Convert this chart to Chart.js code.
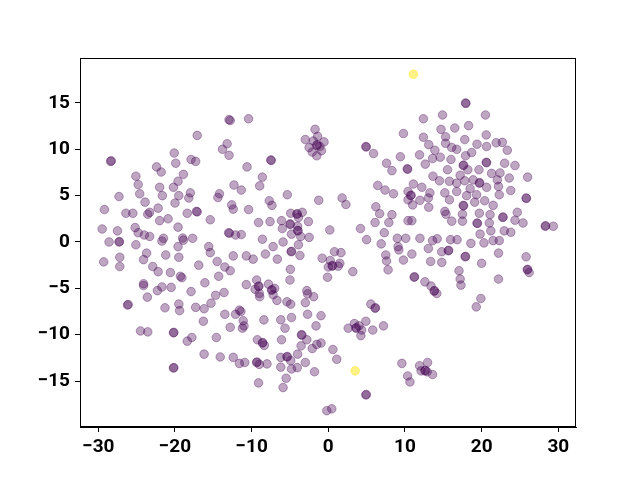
<!DOCTYPE html>
<html>
<head>
<meta charset="utf-8">
<script src="https://cdn.jsdelivr.net/npm/chart.js@4.4.1/dist/chart.umd.min.js"></script>
<style>
  html, body { margin: 0; background: #fff; }
</style>
</head>
<body>
<canvas id="c" width="640" height="480"></canvas>
<script>
// tick values shown on the axes
const xTicks = [-30, -20, -10, 0, 10, 20, 30];
const yTicks = [-15, -10, -5, 0, 5, 10, 15];

// embedding points, label 0 (purple)
const class0 = [
  [-12.95,13.2],[-12.8,13.1],[-10.4,13.3],[-17.1,11.5],[-28.4,8.7],[-28.3,8.75],[-13.2,10.6],[-13.8,10.0],
  [-12.95,9.35],[-20.1,9.6],[-19.9,8.5],[-17.9,8.9],[-17.3,8.7],[-10.6,8.1],[-22.4,8.1],[-21.8,7.55],
  [-25.1,7.1],[-24.8,6.2],[-18.9,7.3],[-19.6,6.55],[-20.2,5.9],[-22.0,5.9],[-24.6,5.2],[-21.65,5.0],
  [-19.5,5.0],[-18.0,5.3],[-18.2,4.75],[-27.3,4.9],[-23.9,4.3],[-20.0,4.2],[-12.3,6.15],[-11.35,5.6],
  [-14.2,5.2],[-14.4,4.8],[-12.6,4.0],[-12.4,3.55],[-10.4,3.5],[-22.2,3.65],[-29.2,3.5],[-26.4,3.1],
  [-25.5,3.1],[-23.3,3.2],[-23.55,3.0],[-18.4,3.1],[-17.2,3.3],[-17.1,3.25],[-22.0,2.3],[-20.9,2.5],
  [-15.4,2.4],[-19.6,1.6],[-29.5,1.4],[-27.5,1.2],[-25.2,1.55],[-24.8,1.0],[-24.0,0.75],[-23.3,0.6],
  [-19.0,0.43],[-18.9,0.2],[-17.7,0.4],[-13.0,1.0],[-12.9,0.95],[-12.1,0.75],[-11.35,0.8],[-28.6,0.0],
  [-27.3,0.0],[-27.25,0.05],[-25.1,-0.3],[-21.7,0.1],[-21.5,0.4],[-19.6,-0.5],[-15.6,-0.5],
  [-15.4,-1.15],[-27.2,-1.65],[-27.2,-2.65],[-29.3,-2.15],[-23.7,-1.2],[-24.1,-1.9],[-21.2,-1.4],
  [-19.5,-1.65],[-16.9,-2.5],[-22.9,-2.65],[-22.2,-3.2],[-20.6,-3.3],[-19.3,-3.7],[-19.1,-3.85],
  [-24.1,-4.5],[-24.1,-4.7],[-22.3,-5.25],[-21.7,-4.85],[-20.5,-4.9],[-23.6,-5.95],[-17.9,-5.35],
  [-16.1,-4.4],[-14.5,-2.1],[-13.5,-2.7],[-12.8,-3.1],[-12.4,-1.5],[-10.7,-1.5],[-14.3,-3.7],[-10.7,-4.6],
  [-14.7,-5.75],[-13.6,-5.45],[-15.3,-6.6],[-16.2,-7.2],[-17.3,-7.05],[-26.2,-6.8],[-26.1,-6.75],
  [-21.3,-7.1],[-19.5,-6.7],[-19.4,-7.4],[-16.3,-8.55],[-13.5,-7.8],[-12.1,-7.8],[-11.6,-7.35],
  [-11.4,-7.5],[-11.1,-8.5],[-12.8,-9.2],[-11.2,-9.3],[-11.0,-9.05],[-24.5,-9.6],[-23.55,-9.7],
  [-20.2,-9.8],[-20.15,-9.75],[-18.4,-10.7],[-17.8,-10.3],[-14.6,-10.3],[-16.2,-12.1],[-14.1,-12.4],
  [-12.4,-12.45],[-11.6,-13.1],[-10.9,-13.0],[-20.2,-13.6],[-20.15,-13.55],
  [-1.73,12.15],[-1.4,11.4],[-3.0,11.05],[-0.56,10.8],[-1.96,10.9],[-2.5,10.2],[-1.5,10.4],[-1.45,10.5],
  [-1.1,10.3],[-0.9,9.85],[-2.1,9.7],[-1.5,9.3],[-7.5,8.85],[-7.45,8.8],[-8.6,7.0],[-8.95,6.05],
  [-5.35,5.1],[-7.7,4.45],[-7.35,3.95],[-1.25,4.5],[1.8,4.75],[2.3,4.05],[4.9,10.3],[4.95,10.25],
  [5.9,9.55],[9.8,11.7],[9.4,9.2],[10.3,7.9],[10.35,7.85],[7.6,8.5],[8.3,7.7],[6.45,6.1],[7.4,5.6],
  [8.5,5.2],[11.1,6.25],[10.4,5.45],[10.75,5.0],[10.8,5.05],[10.4,4.55],[11.0,4.0],[6.2,3.8],[6.7,3.05],
  [8.3,2.95],[7.9,2.1],[6.1,2.1],[10.4,2.3],[10.9,2.3],[4.2,1.45],[7.3,1.0],[5.0,0.25],[6.9,-0.2],
  [9.0,0.4],[10.1,0.4],[9.1,-0.5],[-4.9,3.1],[-4.1,3.0],[-4.05,3.05],[-3.4,3.2],[-3.9,2.65],[-6.1,2.3],
  [-5.0,1.9],[-4.95,1.95],[-4.0,1.7],[-2.6,2.2],[-6.0,1.45],[-4.0,1.25],[-3.95,1.2],[-4.8,0.85],
  [-3.6,0.6],[-2.5,0.5],[-7.6,2.2],[-9.1,2.1],[-8.6,0.3],[0.2,1.3],[-5.9,0.0],[-7.2,-0.5],[-3.9,-0.3],
  [-9.8,-1.85],[-8.2,-1.3],[-6.65,-1.85],[-4.85,-1.05],[-4.8,-1.0],[-3.7,-1.45],[-4.95,-2.95],
  [-5.0,-4.1],[-9.35,-4.1],[-9.1,-4.8],[-9.05,-4.75],[-9.55,-5.1],[-8.95,-5.9],[-9.0,-5.55],[-7.8,-4.55],
  [-7.4,-5.2],[-7.35,-5.15],[-7.0,-5.0],[-7.2,-5.7],[-6.7,-6.3],[-5.4,-6.45],[-4.9,-6.7],[-2.8,-5.25],
  [-2.7,-5.6],[-1.9,-5.9],[-3.0,-6.55],[-0.8,-1.75],[0.8,-1.05],[1.65,-1.15],[0.25,-2.0],[0.0,-2.7],
  [0.5,-2.6],[0.55,-2.55],[1.3,-2.6],[1.5,-2.3],[-0.1,-3.8],[3.2,-3.2],[7.5,-1.4],[7.6,-2.05],
  [7.8,-3.0],[9.2,-0.85],[9.8,-1.95],[10.9,-1.3],[11.2,-3.8],[11.25,-3.75],[-8.4,-8.4],[-6.2,-8.4],
  [-5.65,-9.3],[-4.8,-8.15],[-2.7,-7.8],[-0.95,-7.95],[-1.6,-9.05],[-9.25,-10.55],[-8.6,-10.9],
  [-8.55,-10.85],[-8.35,-11.15],[-6.1,-10.55],[-3.5,-10.0],[-3.45,-10.05],[-2.8,-10.55],[-3.55,-11.2],
  [-2.1,-11.5],[-1.5,-11.05],[-0.95,-10.9],[-4.0,-12.1],[-6.2,-12.45],[-5.4,-12.4],[-5.35,-12.35],
  [-4.9,-12.8],[-6.2,-13.5],[-4.8,-13.7],[-4.05,-13.55],[-3.0,-13.0],[-1.8,-14.0],[-5.5,-14.7],
  [-5.9,-15.7],[-9.35,-13.0],[-9.3,-12.95],[-9.0,-13.2],[-8.0,-13.15],[-9.1,-15.2],[0.6,-11.6],
  [1.1,-12.65],[4.9,-16.5],[4.95,-16.45],[-0.2,-18.2],[0.45,-18.0],[2.6,-9.3],[3.4,-8.8],[3.6,-9.3],
  [3.65,-9.25],[4.0,-9.05],[4.35,-9.5],[4.9,-8.55],[4.25,-10.1],[5.8,-9.5],[7.2,-9.05],[5.55,-6.7],
  [6.1,-7.15],[6.15,-7.1],[9.6,-13.1],[10.35,-14.45],[10.65,-15.1],
  [17.9,15.0],[17.95,14.95],[12.4,13.3],[14.9,13.7],[20.5,13.7],[14.7,12.15],[16.5,12.3],[18.3,12.55],
  [12.4,11.3],[15.3,11.35],[20.6,11.55],[13.1,10.5],[13.9,9.9],[15.3,10.65],[16.1,10.2],[16.75,10.0],
  [17.8,11.05],[18.7,9.65],[19.4,10.55],[20.65,10.3],[21.9,10.7],[22.7,10.75],[23.35,9.9],[11.9,9.4],
  [13.6,9.0],[14.6,9.15],[17.9,9.3],[12.65,8.4],[16.0,8.9],[17.6,8.25],[17.65,8.3],[18.2,7.8],
  [20.6,8.6],[20.65,8.55],[19.65,7.8],[23.0,8.5],[24.35,8.25],[26.0,7.0],[15.55,7.8],[13.65,7.1],
  [14.5,6.6],[15.8,6.55],[17.2,7.2],[16.75,6.35],[17.8,6.6],[18.9,6.7],[19.7,6.35],[19.75,6.4],
  [20.65,5.9],[21.3,7.4],[22.05,6.7],[22.4,7.45],[23.6,6.9],[22.2,6.0],[12.2,5.9],[13.25,5.3],
  [15.2,5.3],[16.75,5.45],[18.5,5.75],[18.05,5.0],[19.35,5.1],[20.4,4.45],[21.5,3.95],[22.3,5.1],
  [23.8,5.55],[25.8,4.75],[25.85,4.7],[11.95,4.5],[13.05,4.75],[13.1,3.75],[15.2,3.3],[15.8,4.55],
  [17.6,3.95],[17.65,3.9],[19.1,4.3],[19.7,3.1],[22.75,2.65],[22.8,2.7],[24.65,3.2],[24.35,2.35],
  [25.4,2.05],[28.3,1.7],[28.35,1.75],[29.35,1.7],[15.35,3.0],[16.1,2.25],[17.5,3.0],[17.5,2.25],
  [19.4,2.05],[19.45,2.0],[21.1,2.95],[21.0,2.05],[21.2,1.2],[19.8,0.85],[22.95,1.2],[23.8,1.05],
  [11.95,0.4],[13.6,0.15],[14.2,0.35],[15.95,0.25],[16.8,0.25],[18.6,-0.15],[20.3,-0.1],[21.5,0.15],
  [22.3,0.15],[13.05,-0.7],[14.8,-1.05],[15.65,-0.95],[15.7,-0.9],[22.2,-1.2],[25.8,-1.6],[13.35,-2.1],
  [14.8,-2.2],[17.85,-1.6],[17.9,-1.55],[20.0,-2.3],[17.05,-3.1],[17.2,-4.0],[17.3,-4.65],[25.95,-3.0],
  [26.0,-2.95],[26.2,-3.3],[22.2,-4.0],[12.6,-4.3],[13.4,-4.75],[13.8,-5.3],[13.85,-5.25],[14.15,-5.55],
  [19.9,-6.1],[19.3,-7.0],[11.9,-13.35],[12.95,-13.0],[12.1,-13.9],[12.6,-13.9],[12.65,-13.85],
  [12.9,-14.0],[13.6,-14.3]
];

// label 1 (yellow)
const class1 = [[11.1,18.1],[3.5,-13.9]];

const purple = 'rgba(68, 1, 84, 0.35)';
const yellow = 'rgba(253, 231, 37, 0.55)';

const toPts = arr => arr.map(p => ({ x: p[0], y: p[1] }));
const minusSign = v => String(v).replace('-', '\u2212');
const tickFont = { family: 'Roboto, "DejaVu Sans", sans-serif', size: 19, weight: 'bold' };

// black box round the plot area, like a matplotlib axes frame
const frame = {
  id: 'frame',
  afterDatasetsDraw(chart) {
    const { ctx, chartArea: a } = chart;
    ctx.save();
    ctx.strokeStyle = '#000';
    ctx.lineWidth = 1;
    ctx.strokeRect(a.left + 0.5, a.top + 0.5, a.width - 1, a.height - 1);
    ctx.restore();
  }
};

new Chart(document.getElementById('c'), {
  type: 'scatter',
  data: {
    datasets: [
      {
        label: '0',
        data: toPts(class0),
        backgroundColor: purple,
        borderColor: purple,
        borderWidth: 1,
        pointRadius: 4.3,
        pointHoverRadius: 4.3
      },
      {
        label: '1',
        data: toPts(class1),
        backgroundColor: yellow,
        borderColor: yellow,
        borderWidth: 1,
        pointRadius: 4.3,
        pointHoverRadius: 4.3
      }
    ]
  },
  options: {
    responsive: false,
    animation: false,
    layout: { padding: { left: 0, top: 58, right: 64, bottom: 0 } },
    plugins: {
      legend: { display: false },
      tooltip: { enabled: false }
    },
    scales: {
      x: {
        type: 'linear',
        min: -32.39,
        max: 32.31,
        afterBuildTicks: s => { s.ticks = xTicks.map(v => ({ value: v })); },
        afterFit: s => { s.height = 53; },
        ticks: { font: tickFont, color: '#000', callback: minusSign, maxRotation: 0, padding: 4 },
        grid: { drawOnChartArea: false, drawTicks: true, tickLength: 5, color: '#000' },
        border: { display: true, color: '#000' }
      },
      y: {
        type: 'linear',
        min: -19.96,
        max: 19.85,
        afterBuildTicks: s => { s.ticks = yTicks.map(v => ({ value: v })); },
        afterFit: s => { s.width = 80; },
        ticks: { font: tickFont, color: '#000', callback: minusSign, padding: 5 },
        grid: { drawOnChartArea: false, drawTicks: true, tickLength: 5, color: '#000' },
        border: { display: true, color: '#000' }
      }
    }
  },
  plugins: [frame]
});
</script>
</body>
</html>
